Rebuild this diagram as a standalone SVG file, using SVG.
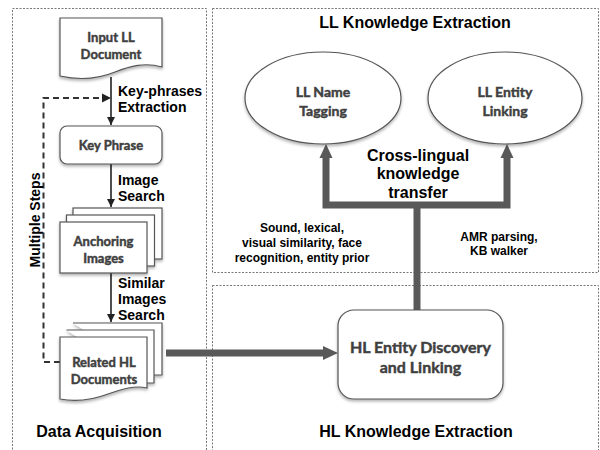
<svg xmlns="http://www.w3.org/2000/svg" width="600" height="450" viewBox="0 0 600 450">
<style>
.panel{fill:none;stroke:#777;stroke-width:1;stroke-dasharray:2 1.5}
.box{fill:#fff;stroke:#555;stroke-width:1.2}
.bt{font-family:Lato,"Open Sans",sans-serif;font-weight:700;fill:#404040;stroke:#404040;stroke-width:0.45;text-anchor:middle}
.lbl{font-family:"Liberation Sans",Arial,sans-serif;font-weight:700;fill:#000}
.title{font-family:"Liberation Sans",Arial,sans-serif;font-weight:700;font-size:16px;fill:#000;text-anchor:middle}
.thin{stroke:#222;stroke-width:1.6;fill:none}
.thick{stroke:#595959;stroke-width:7;fill:none}
.dash{stroke:#333;stroke-width:2;fill:none;stroke-dasharray:6 4}
</style>
<defs>
<filter id="sh" x="-20%" y="-20%" width="140%" height="150%">
<feDropShadow dx="0" dy="2" stdDeviation="1.5" flood-color="#000" flood-opacity="0.3"/>
</filter>
<marker id="ah" viewBox="0 0 10 10" refX="10" refY="5" markerWidth="8" markerHeight="8" markerUnits="userSpaceOnUse" orient="auto">
<path d="M0,0 L10,5 L0,10 Z" fill="#222"/>
</marker>
</defs>

<g id="panels">
<rect class="panel" x="12.5" y="8.5" width="194" height="450"/>
<rect class="panel" x="212.5" y="8.5" width="386" height="264"/>
<rect class="panel" x="212.5" y="285.5" width="386" height="180"/>
</g>

<g id="connectors">
<line class="thin" x1="111" y1="77" x2="111" y2="125" marker-end="url(#ah)"/>
<line class="thin" x1="111" y1="164" x2="111" y2="207" marker-end="url(#ah)"/>
<line class="thin" x1="111" y1="273" x2="111" y2="322" marker-end="url(#ah)"/>
<polyline class="dash" points="60,362 43.5,362 43.5,98 103,98"/>
<path d="M102,93.5 L111,98 L102,102.5 Z" fill="#222"/>
<line class="thick" x1="166" y1="353" x2="324" y2="353"/>
<path d="M323,346 L338,353 L323,360 Z" fill="#595959"/>
<polyline class="thick" points="417,310 417,205"/>
<polyline class="thick" points="326,157 326,205 507,205 507,157"/>
<path d="M319.5,158 L326,144 L332.5,158 Z" fill="#595959"/>
<path d="M500.5,158 L507,144 L513.5,158 Z" fill="#595959"/>
</g>

<g id="input-ll-document">
<path class="box" filter="url(#sh)" d="M60,18 H162 V67 C145,62 130,66 115,72 C98,79 78,80 60,76 Z"/>
<text class="bt" font-size="13" x="111" y="42">Input LL</text>
<text class="bt" font-size="13" x="111" y="59">Document</text>
</g>

<g id="key-phrase">
<rect class="box" filter="url(#sh)" x="60" y="126" width="102" height="38" rx="7"/>
<text class="bt" font-size="13" x="111" y="150">Key Phrase</text>
</g>

<g id="anchoring-images">
<g filter="url(#sh)">
<rect class="box" x="73" y="208" width="89" height="51"/>
<rect class="box" x="66.5" y="215" width="88" height="51"/>
<rect class="box" x="60" y="222" width="87" height="51"/>
</g>
<text class="bt" font-size="13" x="103.5" y="246">Anchoring</text>
<text class="bt" font-size="13" x="103.5" y="263">Images</text>
</g>

<g id="related-hl-documents">
<g filter="url(#sh)">
<path class="box" d="M73,323 H162 V375 H154"/>
<path class="box" d="M66.5,330 H154 V383 H147"/>
<path class="box" d="M60,337 H147 V388 C135,385 122,389 108,394 C92,400 75,402 60,399 Z"/>
</g>
<text class="bt" font-size="13" x="104" y="367">Related HL</text>
<text class="bt" font-size="13" x="104" y="384">Documents</text>
</g>

<g id="ll-name-tagging">
<ellipse class="box" filter="url(#sh)" cx="323" cy="98" rx="78" ry="46"/>
<text class="bt" font-size="14" x="323" y="97">LL Name</text>
<text class="bt" font-size="14" x="323" y="116">Tagging</text>
</g>

<g id="ll-entity-linking">
<ellipse class="box" filter="url(#sh)" cx="505" cy="98" rx="77" ry="46"/>
<text class="bt" font-size="14" x="505" y="97">LL Entity</text>
<text class="bt" font-size="14" x="505" y="116">Linking</text>
</g>

<g id="hl-entity-discovery">
<rect class="box" filter="url(#sh)" x="338" y="310" width="165" height="89" rx="16"/>
<text class="bt" font-size="16" x="420.5" y="353">HL Entity Discovery</text>
<text class="bt" font-size="16" x="420.5" y="373">and Linking</text>
</g>

<g id="labels">
<text class="lbl" font-size="14" x="118" y="96">Key-phrases</text>
<text class="lbl" font-size="14" x="118" y="112">Extraction</text>
<text class="lbl" font-size="14" x="118" y="185">Image</text>
<text class="lbl" font-size="14" x="118" y="201">Search</text>
<text class="lbl" font-size="14" x="118" y="288">Similar</text>
<text class="lbl" font-size="14" x="118" y="304">Images</text>
<text class="lbl" font-size="14" x="118" y="320">Search</text>
<text class="lbl" font-size="14" text-anchor="middle" transform="translate(40,220) rotate(-90)">Multiple Steps</text>
<text class="lbl" font-size="16" text-anchor="middle" x="418" y="161">Cross-lingual</text>
<text class="lbl" font-size="16" text-anchor="middle" x="418" y="179">knowledge</text>
<text class="lbl" font-size="16" text-anchor="middle" x="418" y="198">transfer</text>
<text class="lbl" font-size="12" text-anchor="middle" x="302" y="232">Sound, lexical,</text>
<text class="lbl" font-size="12" text-anchor="middle" x="302" y="247">visual similarity, face</text>
<text class="lbl" font-size="12" text-anchor="middle" x="302" y="262">recognition, entity prior</text>
<text class="lbl" font-size="12" text-anchor="middle" x="499" y="241">AMR parsing,</text>
<text class="lbl" font-size="12" text-anchor="middle" x="499" y="255">KB walker</text>
<text class="title" x="99" y="437">Data Acquisition</text>
<text class="title" x="415" y="28">LL Knowledge Extraction</text>
<text class="title" x="416" y="437">HL Knowledge Extraction</text>
</g>
</svg>
